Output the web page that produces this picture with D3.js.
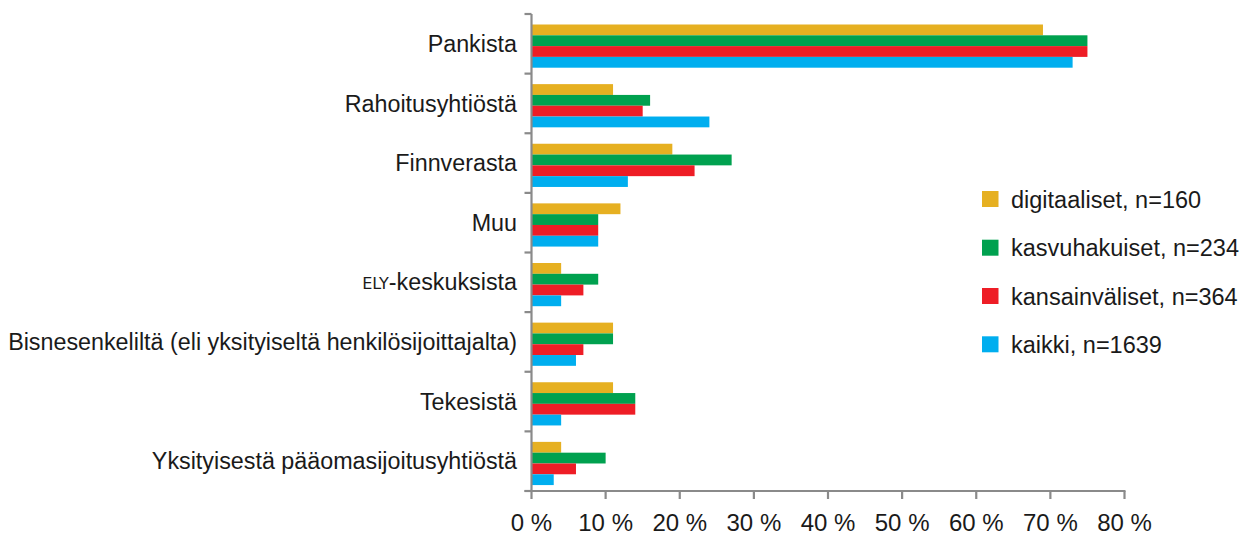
<!DOCTYPE html>
<html><head><meta charset="utf-8">
<script src="https://cdn.jsdelivr.net/npm/d3@7"></script>
<style>
html,body{margin:0;padding:0;background:#fff;}
svg text{font-family:"Liberation Sans", Arial, sans-serif;fill:#1a1a1a;}
</style></head>
<body><svg id="c" width="1250" height="535"></svg>
<script>
const categories = ["Pankista","Rahoitusyhtiöstä","Finnverasta","Muu","ELY-keskuksista","Bisnesenkeliltä (eli yksityiseltä henkilösijoittajalta)","Tekesistä","Yksityisestä pääomasijoitusyhtiöstä"];
const seriesNames = ["digitaaliset, n=160","kasvuhakuiset, n=234","kansainväliset, n=364","kaikki, n=1639"];
const digitaaliset = [69,11,19,12,4,11,11,4];
const kasvuhakuiset = [75,16,27,9,9,11,14,10];
const kansainvaliset = [75,15,22,9,7,7,14,6];
const kaikki = [73,24,13,9,4,6,4,3];
const colors = ["#E6B021","#00A14F","#EE1D26","#00AEEF"];
const xTicks = [0,10,20,30,40,50,60,70,80];

const series = [digitaaliset,kasvuhakuiset,kansainvaliset,kaikki];
const svg = d3.select("#c");
const x = d3.scaleLinear().domain([0,80]).range([531.5,1124.5]);
const y = d3.scaleBand().domain(categories).range([14,491]);
const sub = d3.scaleBand().domain(d3.range(4)).range([10.5,10.5+4*10.8]);

// bars
categories.forEach((c,ci)=>{
  series.forEach((s,si)=>{
    svg.append("rect")
      .attr("x",x(0)).attr("y",y(c)+sub(si))
      .attr("width",x(s[ci])-x(0)).attr("height",sub.bandwidth())
      .attr("fill",colors[si]);
  });
});

const axisColor = "#8a8a8a";
// y axis
const yAxis = svg.append("g");
yAxis.append("line").attr("x1",x(0)).attr("x2",x(0)).attr("y1",y.range()[0]).attr("y2",y.range()[1]).attr("stroke",axisColor).attr("stroke-width",2.2);
const yTicks = categories.map(c=>y(c)).concat([y.range()[1]]);
yTicks.forEach(t=>{
  yAxis.append("line").attr("x1",x(0)-7).attr("x2",x(0)).attr("y1",t).attr("y2",t).attr("stroke",axisColor).attr("stroke-width",2.2);
});
// category labels
categories.forEach(c=>{
  const t = svg.append("text").attr("x",517).attr("y",y(c)+y.bandwidth()/2+2)
    .attr("text-anchor","end").attr("dominant-baseline","middle").style("font-size","23.3px");
  if(c.startsWith("ELY-")){
    t.append("tspan").text("ELY").style("font-family","'DejaVu Sans'").style("font-size","16px");
    t.append("tspan").text(c.slice(3));
  } else t.text(c);
});

// x axis
const xAxis = svg.append("g");
xAxis.append("line").attr("x1",x(0)-7).attr("x2",x(80)+1).attr("y1",491).attr("y2",491).attr("stroke",axisColor).attr("stroke-width",2.2);
xTicks.forEach(v=>{
  xAxis.append("line").attr("x1",x(v)).attr("x2",x(v)).attr("y1",491).attr("y2",499).attr("stroke",axisColor).attr("stroke-width",2.2);
  xAxis.append("text").attr("x",x(v)).attr("y",531).attr("text-anchor","middle").style("font-size","24px").text(v+" %");
});

// legend
const legY = [199,247.7,296,344.3];
seriesNames.forEach((n,i)=>{
  svg.append("rect").attr("x",982).attr("y",legY[i]-8).attr("width",16.5).attr("height",16).attr("fill",colors[i]);
  svg.append("text").attr("x",1011).attr("y",legY[i]+8.5).style("font-size","23.5px").text(n);
});
</script></body></html>
